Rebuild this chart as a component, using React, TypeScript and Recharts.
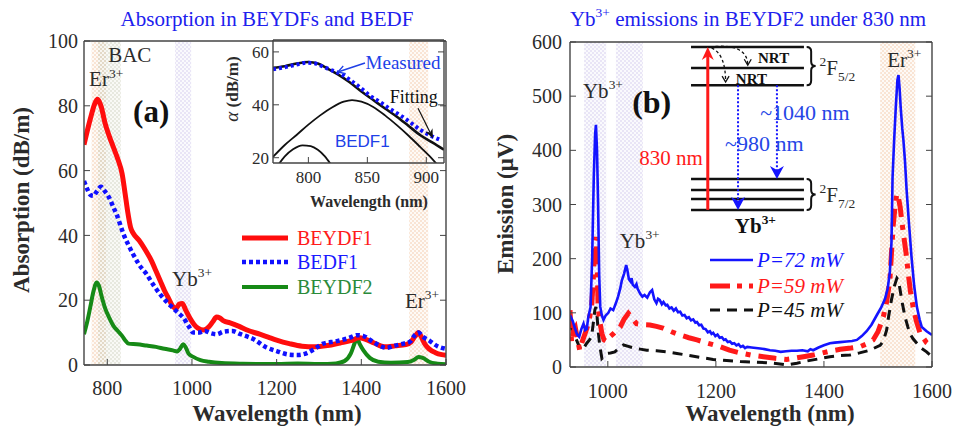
import React from 'react'
import { LineChart, Line, XAxis, YAxis, ReferenceArea, ReferenceLine, ReferenceDot } from 'recharts'

const SERIF = '"Liberation Serif", "Times New Roman", serif'
const SANS = '"Liberation Sans", Arial, sans-serif'
const INK = '#2b2b2b'

// ---------- (a) absorption, [wavelength nm, dB/m]
const absTicksX = [800, 1000, 1200, 1400, 1600]
const absTicksY = [0, 20, 40, 60, 80, 100]

const beydf1 = [
  [745, 68], [760, 76], [770, 80.5], [777, 82], [785, 80], [795, 74.5], [805, 70.5], [815, 67],
  [825, 63.5], [835, 59], [842, 53], [848, 47.5], [855, 42.5], [862, 40.5], [875, 38.5], [890, 35.5],
  [905, 32], [915, 29], [925, 26], [935, 23], [945, 20.5], [955, 18], [963, 17.5], [970, 18.8],
  [977, 19], [985, 17], [995, 14.5], [1005, 12.5], [1015, 11.3], [1027, 10.8], [1040, 11.8],
  [1050, 13.5], [1058, 14.8], [1066, 14.5], [1075, 13.6], [1090, 13], [1110, 12], [1130, 10.8],
  [1160, 9.5], [1180, 8.6], [1200, 7.7], [1230, 6.6], [1260, 5.8], [1290, 5.6], [1320, 6],
  [1350, 6.8], [1375, 7.5], [1395, 8.4], [1410, 7.9], [1430, 6.8], [1455, 5.6], [1480, 5.9],
  [1505, 6.3], [1518, 7.2], [1527, 8.9], [1535, 10], [1542, 8.6], [1550, 6.5], [1560, 5],
  [1575, 3.8], [1590, 3.2], [1600, 3],
]

const bedf1 = [
  [745, 56.8], [752, 54.5], [760, 52.5], [767, 52.2], [775, 53.5], [785, 55], [795, 53.5],
  [805, 51.5], [815, 48.5], [822, 46.5], [830, 43.5], [838, 40.5], [850, 37], [861, 34.2],
  [875, 31], [893, 28], [910, 24.5], [925, 21.8], [940, 19.5], [956, 17.5], [968, 16], [980, 14.5],
  [992, 12], [1003, 10], [1015, 10], [1030, 10.5], [1045, 9.8], [1058, 9.5], [1075, 10.3],
  [1095, 10.5], [1115, 9.5], [1145, 8], [1175, 5.5], [1200, 4.3], [1230, 3.2], [1250, 3.1],
  [1270, 3.6], [1290, 5], [1310, 6.6], [1340, 7.3], [1370, 8.3], [1390, 9.2], [1404, 9],
  [1420, 7.8], [1440, 6.2], [1460, 5.3], [1480, 6], [1500, 6.6], [1515, 7.2], [1527, 9.3],
  [1535, 10], [1545, 8.8], [1562, 7.4], [1580, 5.8], [1600, 5],
]

const beydf2 = [
  [745, 9.5], [752, 13], [760, 18], [767, 22.5], [775, 25.5], [780, 24.5], [787, 21], [795, 17.5],
  [805, 14.5], [815, 12], [825, 10.5], [835, 9], [843, 7.5], [850, 6.6], [870, 6.4], [893, 6],
  [915, 5.6], [935, 5], [955, 4.5], [965, 4.2], [972, 5], [979, 6.4], [985, 5.5], [992, 3.5],
  [1003, 2.5], [1020, 1.5], [1040, 1], [1070, 0.6], [1120, 0.4], [1200, 0.3], [1250, 0.5],
  [1300, 0.3], [1340, 0.5], [1360, 1.2], [1375, 3.5], [1385, 7], [1390, 8.3], [1396, 6.5],
  [1405, 4.5], [1420, 2.2], [1440, 1], [1470, 0.7], [1510, 0.9], [1525, 1.6], [1535, 2.5],
  [1545, 2.2], [1560, 1], [1580, 0.4], [1600, 0.2],
]

// shaded bands [from, to] nm
const erBandA = [763, 797]
const bacBand = [778, 832]
const ybBandA = [960, 998]
const er1530A = [1513, 1558]

// ---------- inset, [wavelength nm, dB/m]
const insetTicksX = [800, 850, 900]
const insetTicksY = [20, 40, 60]
const measured = [
  [770, 53.4], [780, 54.2], [790, 55.2], [798, 55.9], [805, 55.7], [812, 54.5], [820, 53],
  [827, 51.8], [835, 49.5], [844, 46.5], [852, 43.5], [861, 41], [869, 38.5], [878, 36],
  [886, 33.5], [895, 30.5], [903, 28.5], [913, 26.5],
]
const fitTotal = [
  [770, 54], [780, 54.6], [790, 55.6], [800, 56.2], [808, 55.6], [815, 54], [825, 51.5],
  [835, 48.5], [845, 45], [855, 41.8], [865, 38.6], [875, 35.5], [885, 32], [895, 28.5],
  [905, 25.8], [915, 23],
]
const fitBand1 = [
  [770, 20.3], [780, 24.8], [790, 28.6], [800, 32.5], [810, 36], [820, 39], [830, 41.2],
  [837, 41.8], [845, 41.2], [855, 39.2], [865, 36], [875, 32.3], [885, 28.3], [895, 24],
  [903, 20.5], [910, 17],
]
const fitBand2 = [
  [774, 17], [780, 20.5], [787, 23.2], [795, 24.7], [802, 24.4], [808, 23], [814, 20.5], [819, 17.5],
]

// ---------- (b) emission, [wavelength nm, uV]
const emTicksX = [1000, 1200, 1400, 1600]
const emTicksY = [0, 100, 200, 300, 400, 500, 600]

const p72 = [
  [930, 96], [935, 85], [939, 72], [943, 60], [947, 56], [951, 70], [955, 80], [958, 68],
  [961, 70], [964, 93], [968, 110], [971, 200], [974, 350], [976.5, 430], [978, 447], [980, 400],
  [982, 300], [984, 170], [986, 111], [989, 95], [992, 87], [996, 95], [1001, 100], [1005, 108],
  [1010, 105], [1015, 118], [1019, 130], [1023, 145], [1026, 160], [1030, 172], [1034, 188],
  [1036, 180], [1039, 162], [1042, 158], [1044, 164], [1046, 152], [1050, 148], [1053, 153],
  [1055, 145], [1060, 135], [1064, 130], [1068, 133], [1073, 128], [1078, 138], [1082, 142],
  [1086, 125], [1090, 118], [1093, 126], [1096, 124], [1100, 116], [1103, 120], [1107, 114],
  [1110, 115], [1114, 108], [1118, 110], [1122, 104], [1126, 108], [1130, 101], [1134, 102],
  [1138, 95], [1142, 96], [1146, 90], [1150, 92], [1154, 86], [1158, 88], [1162, 82], [1165, 83],
  [1169, 77], [1173, 78], [1177, 71], [1181, 70], [1185, 64], [1189, 66], [1192, 61], [1195, 63],
  [1199, 57], [1203, 60], [1207, 54], [1211, 55], [1215, 50], [1218, 51], [1222, 46], [1226, 47],
  [1230, 43], [1234, 44], [1238, 40], [1242, 42], [1246, 37], [1250, 39], [1254, 35], [1258, 37],
  [1266, 36], [1274, 35], [1282, 34], [1290, 33], [1300, 31], [1310, 30], [1320, 28], [1330, 29],
  [1340, 30], [1350, 30], [1360, 31], [1370, 29], [1375, 33], [1380, 31], [1390, 36], [1400, 40],
  [1411, 44], [1420, 45], [1430, 46], [1442, 47], [1452, 48], [1461, 50], [1470, 57], [1479, 66],
  [1488, 78], [1498, 96], [1506, 110], [1513, 126], [1518, 145], [1522, 175], [1525, 230],
  [1527, 350], [1530, 420], [1533, 480], [1536, 530], [1538, 539], [1540, 515], [1542, 480],
  [1545, 440], [1547, 420], [1550, 380], [1553, 327], [1557, 270], [1562, 204], [1567, 150],
  [1572, 111], [1577, 88], [1581, 74], [1590, 66], [1600, 59],
]

const p59 = [
  [930, 105], [933, 45], [936, 65], [940, 72], [944, 50], [948, 31], [952, 45], [958, 62],
  [964, 80], [970, 111], [973, 160], [976, 228], [978, 240], [980, 200], [982, 111], [985, 85],
  [989, 62], [993, 50], [998, 47], [1004, 56], [1012, 63], [1023, 74], [1030, 88], [1038, 99],
  [1045, 90], [1053, 80], [1065, 78], [1078, 77.5], [1090, 75], [1102, 72], [1118, 65], [1134, 59],
  [1150, 54], [1165, 50], [1185, 44], [1208, 37.5], [1225, 31], [1245, 26], [1265, 22], [1288, 19],
  [1310, 16], [1331, 14], [1345, 16], [1362, 19], [1380, 22], [1393, 25], [1410, 29], [1430, 32.6],
  [1450, 35], [1467, 37.5], [1480, 43], [1491, 50], [1500, 65], [1510, 93], [1516, 120],
  [1522, 160], [1525, 210], [1528, 259], [1532, 300], [1535, 320], [1538, 312], [1541, 296],
  [1544, 270], [1547, 247], [1552, 210], [1556, 173], [1560, 140], [1565, 111], [1571, 85],
  [1578, 62], [1590, 45], [1600, 37.5],
]

const p45 = [
  [930, 80], [936, 62], [942, 50], [947, 38], [952, 31], [956, 36], [961, 44], [966, 50], [970, 56],
  [973, 80], [976, 105], [978, 111], [980, 95], [982, 68], [985, 40], [989, 16], [993, 20],
  [998, 25], [1005, 26], [1013, 28], [1021, 35], [1029, 40.6], [1038, 38], [1050, 34.5],
  [1060, 33], [1072, 31], [1090, 30], [1109, 28], [1128, 25], [1146, 22], [1170, 18], [1195, 14],
  [1220, 12], [1245, 10], [1270, 9], [1294, 8], [1315, 6], [1331, 4], [1350, 7], [1368, 11],
  [1390, 15], [1411, 19], [1430, 21], [1448, 22], [1466, 26], [1485, 31], [1504, 40], [1510, 48],
  [1516, 68], [1520, 95], [1525, 124], [1530, 148], [1535, 164], [1538, 160], [1541, 142],
  [1545, 118], [1550, 93], [1555, 75], [1559, 62], [1565, 52], [1572, 43.7], [1580, 35],
  [1590, 28], [1600, 19],
]

const ybBandB1 = [956, 997]
const ybBandB2 = [1015, 1065]
const erBandB = [1504, 1569]

// Yb3+ level scheme, placed in the (b) axes (nm, uV)
const scheme = {
  from: 1154, to: 1363,
  upper: [591, 552, 520],
  lower: [347, 327, 310, 290],
  pump: 1185, e980: 1241, e1040: 1313, brace: 1368,
}

const pts = (a: number[][]) => a.map(([x, y]) => ({ x, y }))

type Seg = [string, ('sup' | 'sub')?]
function rich(segs: Seg[], size: number) {
  let shift = 0
  return segs.map(([s, k], i) => {
    const target = k === 'sup' ? -size * 0.42 : k === 'sub' ? size * 0.3 : 0
    const dy = target - shift
    shift = target
    return (
      <tspan key={i} dy={dy} fontSize={k ? size * 0.64 : size}>{s}</tspan>
    )
  })
}

type NoteOpt = { size: number; fill?: string; family?: string; weight?: string; italic?: boolean; anchor?: 'start' | 'middle' | 'end' }
function note(key: string, x: number, y: number, segs: Seg[], o: NoteOpt) {
  return (
    <ReferenceDot
      key={key}
      x={x}
      y={y}
      r={0}
      ifOverflow="visible"
      shape={(p: any) => (
        <text
          x={p.cx}
          y={p.cy}
          fill={o.fill ?? INK}
          fontFamily={o.family ?? SERIF}
          fontWeight={o.weight ?? 'normal'}
          fontStyle={o.italic ? 'italic' : 'normal'}
          textAnchor={o.anchor ?? 'start'}
        >
          {rich(segs, o.size)}
        </text>
      )}
    />
  )
}

function arrowShape(color: string, width: number, len: number, half: number, dash?: string, open = false) {
  return (p: any) => {
    const { x1, y1, x2, y2 } = p
    const a = Math.atan2(y2 - y1, x2 - x1)
    const c = Math.cos(a), s = Math.sin(a)
    const bx = x2 - len * c, by = y2 - len * s
    const lx = bx - half * s, ly = by + half * c
    const rx = bx + half * s, ry = by - half * c
    const nx = x2 - len * 0.7 * c, ny = y2 - len * 0.7 * s
    return (
      <g>
        <line x1={x1} y1={y1} x2={open ? x2 : nx} y2={open ? y2 : ny} stroke={color} strokeWidth={width} strokeDasharray={dash} />
        {open ? (
          <polyline points={`${lx},${ly} ${x2},${y2} ${rx},${ry}`} fill="none" stroke={color} strokeWidth={1.3} />
        ) : (
          <polygon points={`${x2},${y2} ${lx},${ly} ${nx},${ny} ${rx},${ry}`} fill={color} />
        )}
      </g>
    )
  }
}

function curveShape(bend: number) {
  return (p: any) => {
    const { x1, y1, x2, y2 } = p
    const cx = x2, cy = y1 + bend
    const a = Math.atan2(y2 - cy, x2 - cx)
    const c = Math.cos(a), s = Math.sin(a)
    const bx = x2 - 6 * c, by = y2 - 6 * s
    return (
      <g>
        <path d={`M${x1},${y1} Q${cx},${cy} ${x2},${y2}`} fill="none" stroke="#111" strokeWidth={1.3} strokeDasharray="3 2.5" />
        <polyline points={`${bx - 3.5 * s},${by + 3.5 * c} ${x2},${y2} ${bx + 3.5 * s},${by - 3.5 * c}`} fill="none" stroke="#111" strokeWidth={1.3} />
      </g>
    )
  }
}

const braceShape = (p: any) => {
  const { x1, y1, y2 } = p
  const top = Math.min(y1, y2), bot = Math.max(y1, y2), m = (top + bot) / 2, w = 4.5
  const d = `M${x1},${top} Q${x1 + w},${top} ${x1 + w},${top + w} L${x1 + w},${m - w} Q${x1 + w},${m} ${x1 + 2 * w},${m} Q${x1 + w},${m} ${x1 + w},${m + w} L${x1 + w},${bot - w} Q${x1 + w},${bot} ${x1},${bot}`
  return <path d={d} fill="none" stroke="#111" strokeWidth={2} />
}

type FrameOpt = {
  domX: number[]; domY: number[]; ticksX: number[]; ticksY: number[]
  font: number; mx: number; my: number; hB: number; hT: number; wL: number; wR: number
}
function frame(o: FrameOpt) {
  const tick = { fill: INK, fontSize: o.font, fontFamily: SERIF }
  const blank = () => ''
  const common = {
    type: 'number' as const,
    stroke: '#444',
    tickSize: -6,
    interval: 0 as const,
    allowDataOverflow: true,
    axisLine: { strokeWidth: 1.4 },
  }
  return [
    <XAxis key="xb" dataKey="x" {...common} domain={o.domX} ticks={o.ticksX} height={o.hB} tickMargin={o.mx} tick={tick} />,
    <XAxis key="xt" xAxisId="t" orientation="top" {...common} domain={o.domX} ticks={o.ticksX} height={o.hT} tickFormatter={blank} />,
    <YAxis key="yl" {...common} domain={o.domY} ticks={o.ticksY} width={o.wL} tickMargin={o.my} tick={tick} />,
    <YAxis key="yr" yAxisId="r" orientation="right" {...common} domain={o.domY} ticks={o.ticksY} width={o.wR} tickFormatter={blank} />,
  ]
}

const band = (key: string, r: number[], fill: string) => (
  <ReferenceArea key={key} x1={r[0]} x2={r[1]} fill={fill} fillOpacity={0.45} stroke="none" />
)

function AbsorptionChart() {
  return (
    <LineChart width={480} height={434} margin={{ top: 31, right: 24, bottom: 39, left: 44 }}>
      {frame({ domX: [745, 1600], domY: [0, 100], ticksX: absTicksX, ticksY: absTicksY, font: 20, mx: 22, my: 12, hB: 30, hT: 10, wL: 40, wR: 10 })}
      {band('b1', erBandA, 'url(#hatchOrange)')}
      {band('b2', bacBand, 'url(#hatchBac)')}
      {band('b3', ybBandA, 'url(#hatchPurple)')}
      {band('b4', er1530A, 'url(#hatchOrange)')}
      <Line data={pts(beydf2)} dataKey="y" type="monotone" stroke="#168a16" strokeWidth={4} dot={false} isAnimationActive={false} />
      <Line data={pts(beydf1)} dataKey="y" type="monotone" stroke="#ff0d0d" strokeWidth={5} dot={false} isAnimationActive={false} />
      <Line data={pts(bedf1)} dataKey="y" type="monotone" stroke="#1010ff" strokeWidth={4.5} strokeDasharray="4 3" dot={false} isAnimationActive={false} />
      {note('bac', 802, 93.5, [['BAC']], { size: 21 })}
      {note('er1', 757, 86, [['Er'], ['3+', 'sup']], { size: 21 })}
      {note('a', 861, 75, [['(a)']], { size: 31, weight: 'bold', fill: '#111' })}
      {note('yb', 953, 24.4, [['Yb'], ['3+', 'sup']], { size: 21 })}
      {note('er2', 1503, 17.6, [['Er'], ['3+', 'sup']], { size: 21 })}
    </LineChart>
  )
}

function InsetChart() {
  return (
    <LineChart width={240} height={200} margin={{ top: 6, right: 10, bottom: 47, left: 23 }}>
      {frame({ domX: [770, 915], domY: [18, 64.5], ticksX: insetTicksX, ticksY: insetTicksY, font: 17, mx: 14, my: 10, hB: 20, hT: 4, wL: 30, wR: 6 })}
      <Line data={pts(fitBand1)} dataKey="y" type="monotone" stroke="#111" strokeWidth={1.8} dot={false} isAnimationActive={false} />
      <Line data={pts(fitBand2)} dataKey="y" type="monotone" stroke="#111" strokeWidth={1.8} dot={false} isAnimationActive={false} />
      <Line data={pts(fitTotal)} dataKey="y" type="monotone" stroke="#111" strokeWidth={2.6} dot={false} isAnimationActive={false} />
      <Line data={pts(measured)} dataKey="y" type="monotone" stroke="#1010ff" strokeWidth={4} strokeDasharray="3 3" dot={false} isAnimationActive={false} />
      <ReferenceLine segment={[{ x: 848, y: 55.8 }, { x: 825, y: 52.4 }]} shape={arrowShape('#1f3fe6', 1.5, 7, 4, undefined, true)} />
      <ReferenceLine segment={[{ x: 893, y: 38.7 }, { x: 905.6, y: 27.4 }]} shape={arrowShape('#111', 1.2, 9, 4)} />
      {note('meas', 848.5, 53.5, [['Measured']], { size: 19, fill: '#2040e8' })}
      {note('fit', 869, 40.6, [['Fitting']], { size: 18, fill: '#111' })}
      {note('bedf', 822.5, 24, [['BEDF1']], { size: 17, fill: '#2040e8', family: SANS })}
    </LineChart>
  )
}

function EmissionChart() {
  const s = scheme
  return (
    <LineChart width={473} height={434} margin={{ top: 32, right: 11, bottom: 37, left: 50 }}>
      {frame({ domX: [930, 1600], domY: [0, 600], ticksX: emTicksX, ticksY: emTicksY, font: 20, mx: 23, my: 14, hB: 30, hT: 10, wL: 40, wR: 10 })}
      {band('e1', ybBandB1, 'url(#hatchPurple)')}
      {band('e2', ybBandB2, 'url(#hatchPurple)')}
      {band('e3', erBandB, 'url(#hatchOrange)')}
      <Line data={pts(p45)} dataKey="y" stroke="#111" strokeWidth={3} strokeDasharray="10 7" dot={false} isAnimationActive={false} />
      <Line data={pts(p59)} dataKey="y" stroke="#ff1a1a" strokeWidth={5} strokeDasharray="18 8 5 8" dot={false} isAnimationActive={false} />
      <Line data={pts(p72)} dataKey="y" stroke="#1414ff" strokeWidth={2.6} dot={false} isAnimationActive={false} />
      {[...s.upper, ...s.lower].map((v, i) => (
        <ReferenceLine key={`lv${i}`} segment={[{ x: s.from, y: v }, { x: s.to, y: v }]} stroke="#111" strokeWidth={2.5} />
      ))}
      <ReferenceLine segment={[{ x: s.pump, y: s.lower[3] }, { x: s.pump, y: s.upper[0] }]} shape={arrowShape('#ff1a1a', 3, 13, 6)} />
      <ReferenceLine segment={[{ x: s.e980, y: s.upper[2] }, { x: s.e980, y: s.lower[3] }]} shape={arrowShape('#1414ff', 2, 13, 7, '2 2')} />
      <ReferenceLine segment={[{ x: s.e1040, y: s.upper[2] }, { x: s.e1040, y: s.lower[0] }]} shape={arrowShape('#1414ff', 2, 13, 7, '2 2')} />
      <ReferenceLine segment={[{ x: 1189, y: s.upper[0] }, { x: 1259, y: 557 }]} shape={curveShape(-4)} />
      <ReferenceLine segment={[{ x: 1192, y: 589 }, { x: 1218, y: 526 }]} shape={curveShape(6)} />
      <ReferenceLine segment={[{ x: s.brace, y: s.upper[0] }, { x: s.brace, y: s.upper[2] }]} shape={braceShape} />
      <ReferenceLine segment={[{ x: s.brace, y: s.lower[0] }, { x: s.brace, y: s.lower[3] }]} shape={braceShape} />
      {note('nrt1', 1278, 561, [['NRT']], { size: 15, weight: 'bold', fill: '#111' })}
      {note('nrt2', 1237, 523, [['NRT']], { size: 15, weight: 'bold', fill: '#111' })}
      {note('f52', 1392, 539, [['2', 'sup'], ['F'], ['5/2', 'sub']], { size: 21 })}
      {note('f72', 1392, 305, [['2', 'sup'], ['F'], ['7/2', 'sub']], { size: 21 })}
      {note('pump', 1176, 373, [['830 nm']], { size: 21, fill: '#ff1a1a', anchor: 'end' })}
      {note('n980', 1217, 399, [['~980 nm']], { size: 22, fill: '#2546e6' })}
      {note('n1040', 1282, 456, [['~1040 nm']], { size: 22, fill: '#2546e6' })}
      {note('ybion', 1235, 247, [['Yb'], ['3+', 'sup']], { size: 21, weight: 'bold', fill: '#111' })}
      {note('yb1', 954, 497, [['Yb'], ['3+', 'sup']], { size: 21 })}
      {note('b', 1045, 469, [['(b)']], { size: 32, weight: 'bold', fill: '#111' })}
      {note('yb2', 1022, 220, [['Yb'], ['3+', 'sup']], { size: 21 })}
      {note('er', 1517, 554, [['Er'], ['3+', 'sup']], { size: 21 })}
    </LineChart>
  )
}

function Overlay() {
  const blue = '#2020ee'
  return (
    <svg width={953} height={434} style={{ position: 'absolute', left: 0, top: 0, pointerEvents: 'none' }}>
      <text x={267} y={26} textAnchor="middle" fontFamily={SERIF} fontSize={21} fill={blue}>Absorption in BEYDFs and BEDF</text>
      <text x={748} y={26} textAnchor="middle" fontFamily={SERIF} fill={blue}>
        {rich([['Yb'], ['3+', 'sup'], [' emissions in BEYDF2 under 830 nm']], 21)}
      </text>
      <text x={29} y={200} transform="rotate(-90 29 200)" textAnchor="middle" fontFamily={SERIF} fontWeight="bold" fontSize={23} fill={INK}>Absorption (dB/m)</text>
      <text x={513} y={204} transform="rotate(-90 513 204)" textAnchor="middle" fontFamily={SERIF} fontWeight="bold" fontSize={23} fill={INK}>Emission (μV)</text>
      <text x={277} y={421} textAnchor="middle" fontFamily={SERIF} fontWeight="bold" fontSize={23} fill={INK}>Wavelength (nm)</text>
      <text x={770} y={421} textAnchor="middle" fontFamily={SERIF} fontWeight="bold" fontSize={23} fill={INK}>Wavelength (nm)</text>
      <text x={369} y={207} textAnchor="middle" fontFamily={SERIF} fontWeight="bold" fontSize={16} fill={INK}>Wavelength (nm)</text>
      <text x={238} y={89} transform="rotate(-90 238 89)" textAnchor="middle" fontFamily={SERIF} fontSize={17} fill={INK}>
        <tspan fontStyle="italic" fontSize={19}>α</tspan>
        <tspan fontWeight="bold"> (dB/m)</tspan>
      </text>

      {/* legend (a) */}
      <line x1={242} y1={238} x2={288} y2={238} stroke="#ff0d0d" strokeWidth={5} />
      <line x1={242} y1={262} x2={288} y2={262} stroke="#1010ff" strokeWidth={4.5} strokeDasharray="4 3" />
      <line x1={242} y1={287} x2={288} y2={287} stroke="#168a16" strokeWidth={4} />
      <text x={297} y={245} fontFamily={SERIF} fontSize={20} fill="#ff1a1a">BEYDF1</text>
      <text x={297} y={269} fontFamily={SERIF} fontSize={20} fill="#1a1aff">BEDF1</text>
      <text x={297} y={294} fontFamily={SERIF} fontSize={20} fill="#2a8a3a">BEYDF2</text>

      {/* legend (b) */}
      <line x1={710} y1={260} x2={753} y2={260} stroke="#1414ff" strokeWidth={2.6} />
      <line x1={710} y1={286} x2={753} y2={286} stroke="#ff1a1a" strokeWidth={5} strokeDasharray="20 7 5 7" />
      <line x1={710} y1={310} x2={753} y2={310} stroke="#111" strokeWidth={3} strokeDasharray="10 7" />
      <text x={757} y={267} fontFamily={SERIF} fontStyle="italic" fontSize={21} fill="#1414ff">P=72 mW</text>
      <text x={757} y={293} fontFamily={SERIF} fontStyle="italic" fontSize={21} fill="#ff1a1a">P=59 mW</text>
      <text x={757} y={317} fontFamily={SERIF} fontStyle="italic" fontSize={21} fill="#111">P=45 mW</text>
    </svg>
  )
}

export default function App() {
  return (
    <div style={{ position: 'absolute', left: 0, top: 0, width: 953, height: 434, background: '#fff', overflow: 'hidden' }}>
      <svg width={0} height={0} style={{ position: 'absolute' }}>
        <defs>
          <pattern id="hatchOrange" width={4} height={4} patternUnits="userSpaceOnUse">
            <rect width={4} height={4} fill="#fdf3ea" />
            <rect width={2} height={2} fill="#f2c4a0" />
            <rect x={2} y={2} width={2} height={2} fill="#f2c4a0" />
          </pattern>
          <pattern id="hatchPurple" width={4} height={4} patternUnits="userSpaceOnUse">
            <rect width={4} height={4} fill="#f5f3fb" />
            <rect width={2} height={2} fill="#cfc6ea" />
            <rect x={2} y={2} width={2} height={2} fill="#cfc6ea" />
          </pattern>
          <pattern id="hatchBac" width={4} height={4} patternUnits="userSpaceOnUse">
            <rect width={4} height={4} fill="#f1f2ec" />
            <rect width={2} height={2} fill="#c9ccb8" />
            <rect x={2} y={2} width={2} height={2} fill="#c9ccb8" />
          </pattern>
        </defs>
      </svg>
      <div style={{ position: 'absolute', left: 0, top: 0 }}>
        <AbsorptionChart />
      </div>
      <div style={{ position: 'absolute', left: 220, top: 30 }}>
        <InsetChart />
      </div>
      <div style={{ position: 'absolute', left: 480, top: 0 }}>
        <EmissionChart />
      </div>
      <Overlay />
    </div>
  )
}
